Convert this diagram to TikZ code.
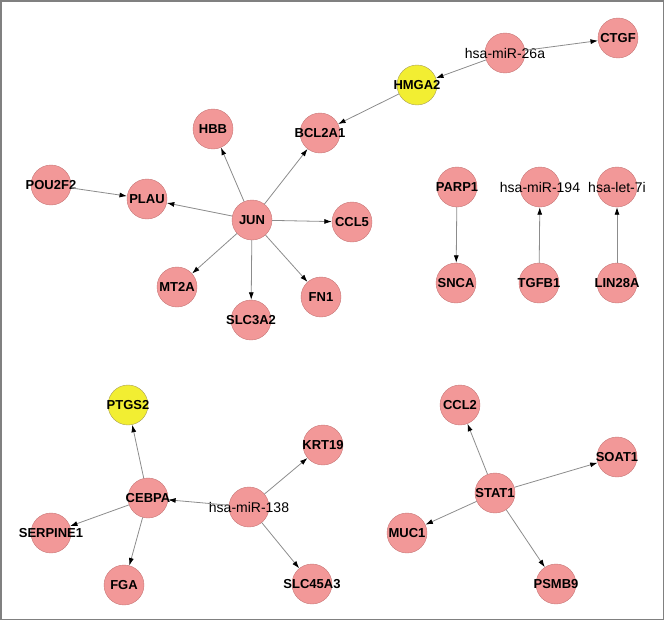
\documentclass[tikz,border=0pt]{standalone}
\usepackage{fontspec}
\setmainfont{Liberation Sans}
\usetikzlibrary{arrows.meta}
\definecolor{genepink}{RGB}{242,152,152}
\definecolor{geneline}{RGB}{200,120,120}
\definecolor{hubyellow}{RGB}{242,238,50}
\definecolor{hubline}{RGB}{170,160,90}
\definecolor{edgegray}{RGB}{140,140,140}
\definecolor{framegray}{RGB}{128,128,128}

\begin{document}
\begin{tikzpicture}[x=1pt, y=-1pt,
	gene/.style = {circle, draw=geneline, fill=genepink, minimum size=40pt, inner sep=0pt},
	hub/.style = {gene, draw=hubline, fill=hubyellow},
	gname/.style = {font=\fontsize{13}{13}\selectfont\bfseries, inner sep=0pt},
	mname/.style = {font=\fontsize{14}{14}\selectfont, inner sep=0pt},
	link/.style = {draw=edgegray, line width=0.8pt, -{Latex[length=7.5pt, width=5pt, black]}}]
	\useasboundingbox (0,0) rectangle (666,621);
	\draw[framegray, line width=1.5pt] (0.75,0.75) rectangle (663.5,619.5);

	% JUN cluster
	\node[gene, label={[gname]center:JUN}] (jun) at (252,220) {};
	\node[gene, label={[gname]center:HBB}] (hbb) at (213,129) {};
	\node[gene, label={[gname]center:BCL2A1}] (bcl) at (320,133) {};
	\node[gene, label={[gname]center:PLAU}] (plau) at (147,199) {};
	\node[gene, label={[gname]center:POU2F2}] (pou) at (51,185) {};
	\node[gene, label={[gname]center:CCL5}] (ccl5) at (352,222) {};
	\node[gene, label={[gname]center:MT2A}] (mt2a) at (177,287) {};
	\node[gene, label={[gname]center:SLC3A2}] (slc3) at (251,320) {};
	\node[gene, label={[gname]center:FN1}] (fn1) at (321,297) {};
	\node[hub, label={[gname]center:HMGA2}] (hmga) at (417,85) {};
	\node[gene, label={[mname]center:hsa-miR-26a}] (mir26) at (505,53) {};
	\node[gene, label={[gname]center:CTGF}] (ctgf) at (618,38) {};

	\foreach \t in {hbb, bcl, plau, ccl5, mt2a, slc3, fn1}
		\draw[link] (jun) -- (\t);
	\draw[link] (pou) -- (plau);
	\draw[link] (hmga) -- (bcl);
	\draw[link] (mir26) -- (hmga);
	\draw[link] (mir26) -- (ctgf);

	% pairs
	\node[gene, label={[gname]center:PARP1}] (parp) at (457,187) {};
	\node[gene, label={[gname]center:SNCA}] (snca) at (456,283) {};
	\node[gene, label={[mname]center:hsa-miR-194}] (mir194) at (540,187) {};
	\node[gene, label={[gname]center:TGFB1}] (tgfb) at (539,283) {};
	\node[gene, label={[mname]center:hsa-let-7i}] (let7) at (617,187) {};
	\node[gene, label={[gname]center:LIN28A}] (lin) at (617,283) {};
	\draw[link] (parp) -- (snca);
	\draw[link] (tgfb) -- (mir194);
	\draw[link] (lin) -- (let7);

	% CEBPA cluster
	\node[hub, label={[gname]center:PTGS2}] (ptgs) at (128,405) {};
	\node[gene, label={[gname]center:CEBPA}] (cebpa) at (148,498) {};
	\node[gene, label={[gname]center:SERPINE1}] (serp) at (51,533) {};
	\node[gene, label={[gname]center:FGA}] (fga) at (124,585) {};
	\node[gene, label={[mname]center:hsa-miR-138}] (mir138) at (249,507) {};
	\node[gene, label={[gname]center:KRT19}] (krt) at (323,445) {};
	\node[gene, label={[gname]center:SLC45A3}] (slc45) at (312,584) {};
	\foreach \t in {ptgs, serp, fga}
		\draw[link] (cebpa) -- (\t);
	\foreach \t in {cebpa, krt, slc45}
		\draw[link] (mir138) -- (\t);

	% STAT1 cluster
	\node[gene, label={[gname]center:STAT1}] (stat) at (495,493) {};
	\node[gene, label={[gname]center:CCL2}] (ccl2) at (460,405) {};
	\node[gene, label={[gname]center:SOAT1}] (soat) at (617,457) {};
	\node[gene, label={[gname]center:MUC1}] (muc) at (407,533) {};
	\node[gene, label={[gname]center:PSMB9}] (psmb) at (556,584) {};
	\foreach \t in {ccl2, soat, muc, psmb}
		\draw[link] (stat) -- (\t);
\end{tikzpicture}
\end{document}
